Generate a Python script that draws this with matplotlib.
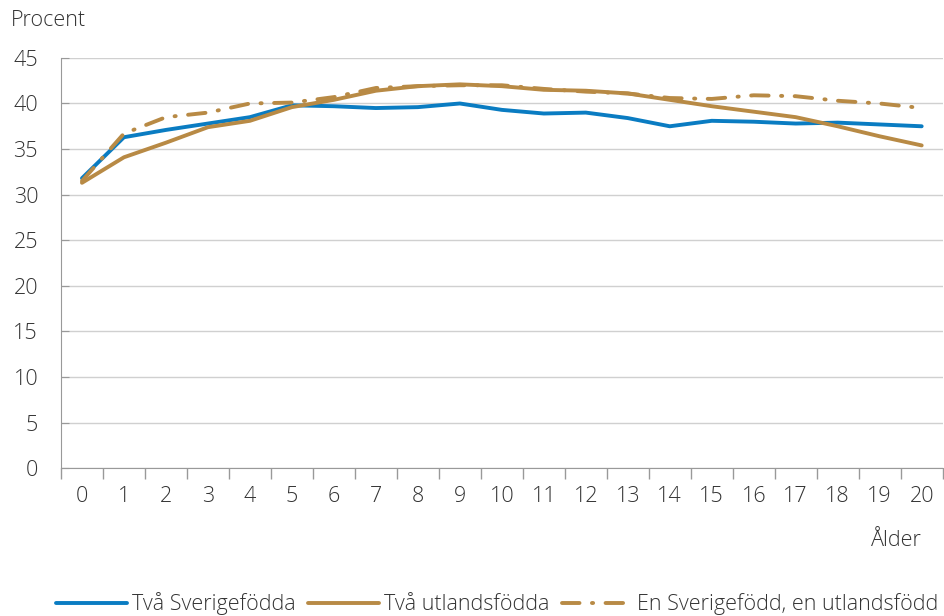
import matplotlib
matplotlib.use("Agg")
import matplotlib.pyplot as plt
import numpy as np

ages = [str(i) for i in range(21)]
tva_sverige = [31.8, 36.3, 37.1, 37.8, 38.5, 39.8, 39.7, 39.5, 39.6, 40.0, 39.3,
               38.9, 39.0, 38.4, 37.5, 38.1, 38.0, 37.8, 37.9, 37.7, 37.5]
tva_utland = [31.3, 34.1, 35.7, 37.4, 38.1, 39.6, 40.4, 41.4, 41.9, 42.1, 41.9,
              41.5, 41.4, 41.1, 40.4, 39.7, 39.1, 38.5, 37.5, 36.4, 35.4]
en_var = [31.5, 36.7, 38.5, 39.0, 40.0, 40.1, 40.7, 41.7, 41.9, 42.0, 42.0,
          41.6, 41.3, 41.1, 40.6, 40.5, 40.9, 40.8, 40.3, 40.0, 39.5]
labels = ["Två Sverigefödda", "Två utlandsfödda", "En Sverigefödd, en utlandsfödd"]

blue = "#0a7cc2"
gold = "#b88a45"

plt.rcParams['font.family'] = ['Open Sans', 'DejaVu Sans']
plt.rcParams['font.weight'] = 300
FS = 15.5
TC = '#333333'

fig = plt.figure(figsize=(9.44, 6.16), dpi=100)
ax = fig.add_axes([0.0646, 0.240, 0.934, 0.666])

x = np.arange(len(ages))
ax.plot(x, tva_sverige, color=blue, lw=2.8, label=labels[0], solid_capstyle='round')
ax.plot(x, tva_utland, color=gold, lw=2.8, label=labels[1], solid_capstyle='round')
ax.plot(x, en_var, color=gold, lw=2.8, label=labels[2],
        linestyle=(0, (4.5, 3.2, 0.3, 3.2)), dash_capstyle='round')

ax.set_xlim(-0.5, 20.5)
ax.set_ylim(0, 45)
ax.set_yticks(range(0, 46, 5))
ax.set_xticks(x)
ax.set_xticklabels(ages)
ax.set_xticks(np.arange(-0.5, 21, 1), minor=True)
ax.tick_params(axis='x', which='major', length=0, pad=13, labelsize=FS, colors=TC)
ax.tick_params(axis='x', which='minor', length=8, color='#999999', width=1)
ax.tick_params(axis='y', length=6, direction='in', color='#999999', pad=16.5,
               labelsize=FS, labelcolor=TC)
for lab in ax.get_yticklabels() + ax.get_xticklabels():
    lab.set_fontweight(300)

ax.grid(axis='y', color='#d0d0d0', lw=1)
ax.set_axisbelow(True)
for s in ['top', 'right']:
    ax.spines[s].set_visible(False)
ax.spines['left'].set_color('#999999')
ax.spines['bottom'].set_color('#999999')

fig.text(0.012, 0.966, "Procent", fontsize=FS, color=TC, va='center', fontweight=300)
fig.text(0.977, 0.122, "Ålder", fontsize=FS, color=TC, ha='right', va='center', fontweight=300)

fig.legend(loc='center', bbox_to_anchor=(0.527, 0.02), ncol=3, frameon=False,
           handlelength=3.3, handletextpad=0.2, columnspacing=0.6,
           labelcolor=TC, prop={'weight': 300, 'size': FS})

fig.savefig("out.png", dpi=100)
